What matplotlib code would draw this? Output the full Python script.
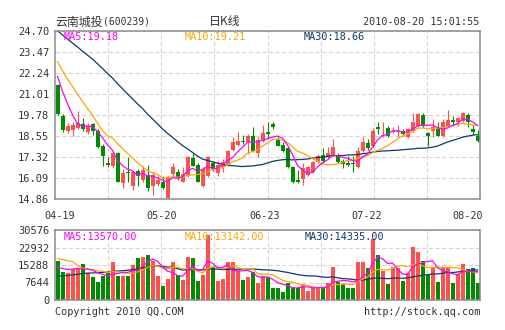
import numpy as np
import pandas as pd
import matplotlib
matplotlib.use("Agg")
import matplotlib.pyplot as plt

# ---- data (85 trading days, 04-19 .. 08-20) ----
date_labels = ["04-19", "05-20", "06-23", "07-22", "08-20"]
price_ticks = [14.86, 16.09, 17.32, 18.55, 19.78, 21.01, 22.24, 23.47, 24.70]
vol_ticks = [0, 7644, 15288, 22932, 30576]

opens = [21.54, 19.74, 18.82, 18.92, 19.00, 19.23, 18.77, 19.25, 18.86, 17.98,
         16.95, 16.81, 17.53, 15.78, 16.46, 15.64, 16.52, 15.99, 16.27, 15.64,
         15.74, 15.88, 14.92, 16.33, 16.42, 15.88, 16.23, 17.24, 16.85, 15.64,
         16.23, 16.95, 16.36, 16.72, 16.91, 17.75, 18.04, 18.28, 18.18, 18.57,
         17.55, 18.28, 18.77, 19.25, 18.32, 18.02, 17.83, 16.72, 15.99, 16.03,
         16.29, 16.42, 17.05, 17.44, 17.34, 17.44, 17.44, 17.11, 16.95, 16.95,
         16.72, 17.69, 18.14, 17.95, 19.06, 18.99, 19.02, 18.77, 18.80, 18.86,
         18.47, 18.86, 19.16, 19.78, 18.73, 18.86, 19.00, 18.57, 19.12, 19.49,
         19.39, 19.45, 19.78, 18.96, 18.57]
closes = [19.84, 18.90, 19.16, 19.21, 19.29, 18.96, 19.12, 18.86, 17.89, 17.40,
          16.87, 17.55, 15.88, 16.36, 16.36, 16.42, 16.19, 16.58, 15.51, 16.27,
          15.97, 15.49, 16.10, 16.72, 16.13, 16.33, 17.30, 16.81, 15.88, 16.62,
          17.30, 16.62, 16.85, 17.05, 17.69, 18.22, 18.28, 18.18, 18.57, 17.69,
          18.32, 18.73, 18.65, 19.06, 17.98, 17.69, 16.72, 15.84, 15.88, 16.66,
          16.72, 17.01, 17.40, 17.11, 17.53, 17.93, 17.01, 16.91, 16.85, 16.89,
          17.69, 18.22, 17.83, 18.86, 18.96, 19.02, 18.57, 18.86, 18.86, 18.67,
          18.96, 19.35, 19.84, 19.16, 18.57, 19.06, 18.57, 19.39, 19.49, 19.35,
          19.59, 19.88, 19.35, 18.77, 18.24]
highs = [21.60, 19.84, 19.29, 19.39, 20.03, 19.60, 19.31, 19.29, 18.96, 18.08,
         17.30, 17.69, 17.63, 16.62, 17.34, 16.52, 16.62, 16.81, 16.87, 16.42,
         16.23, 16.23, 16.23, 16.97, 16.62, 16.72, 17.40, 17.55, 16.97, 16.72,
         17.40, 17.11, 17.11, 17.20, 17.75, 18.47, 18.80, 18.61, 18.67, 19.10,
         18.47, 19.19, 19.39, 19.35, 18.47, 18.18, 17.89, 16.81, 16.58, 16.97,
         16.81, 17.11, 17.50, 17.83, 17.89, 18.38, 17.55, 17.20, 17.40, 17.40,
         17.89, 18.47, 18.38, 19.00, 19.35, 19.35, 19.12, 19.06, 19.19, 18.96,
         19.00, 19.90, 19.90, 19.88, 18.80, 19.55, 19.35, 19.55, 20.09, 19.74,
         19.64, 19.94, 19.88, 19.19, 18.90]
lows = [19.78, 18.77, 18.73, 18.53, 18.96, 18.86, 18.67, 18.61, 17.83, 16.81,
        16.72, 16.66, 15.84, 15.49, 15.84, 15.39, 15.64, 15.88, 15.35, 15.10,
        15.64, 15.45, 14.86, 16.23, 15.99, 15.84, 16.13, 16.77, 15.84, 15.58,
        16.13, 16.52, 16.19, 16.46, 16.81, 17.69, 17.98, 18.08, 17.50, 17.63,
        17.30, 18.22, 18.38, 18.96, 17.95, 17.63, 16.66, 15.80, 15.80, 15.68,
        16.23, 16.38, 16.97, 16.97, 17.20, 17.40, 16.97, 16.66, 16.81, 16.42,
        16.66, 17.63, 17.75, 17.89, 18.67, 18.47, 18.47, 18.73, 18.47, 18.57,
        18.41, 18.80, 19.06, 19.06, 17.98, 18.47, 18.53, 18.47, 19.06, 19.16,
        19.16, 19.35, 19.06, 18.61, 18.18]
volumes = [17170, 12400, 12000, 13700, 14000, 15700, 11800, 10100, 7900, 10600,
           11800, 16700, 10600, 10600, 10600, 15300, 18400, 18900, 19700, 17200,
           10600, 6100, 9300, 16700, 10800, 8900, 18800, 18500, 8400, 11000,
           28300, 14200, 8400, 9300, 16400, 16600, 12700, 8700, 10200, 12400,
           7300, 10400, 9900, 5400, 5100, 3640, 7570, 5100, 5100, 6990,
           4080, 5390, 5100, 5830, 7570, 14560, 7720, 6840, 5390, 5100,
           16750, 16750, 14130, 26640, 19660, 12810, 6840, 14560, 14130, 8300,
           11940, 23310, 20830, 17030, 10920, 13840, 8000, 14560, 13840, 7280,
           11220, 15870, 13400, 14130, 7570]

# sessions before 04-19 (not drawn, only feed the moving averages), estimated
prior_closes = [26.3, 26.5, 26.2, 26.0, 26.4, 26.1, 25.9, 26.0, 25.7, 25.8,
                25.5, 25.6, 25.3, 25.4, 25.0, 25.2, 24.9, 25.1, 24.8, 24.7,
                24.2, 24.0, 23.6, 23.8, 23.2, 23.3, 22.8, 22.5, 21.8]
prior_volumes = [6200, 5800, 7000, 6500, 5600, 6900, 7200, 6300, 5900, 6800,
                 7400, 6100, 6600, 5700, 6400, 7100, 6700, 6000, 6900, 6800,
                 16000, 17000, 18000, 30000, 28000, 15000, 14000, 13000, 12230]

RED = "#ff5050"
GREEN = "#008c00"
C_MA5 = "#ff00ff"
C_MA10 = "#ffa500"
C_MA30 = "#0b3a6a"
FRAME = "#8c8c8c"
GRID = "#d6d6d6"
TXT = "#333333"
MONO = "DejaVu Sans Mono"
CJK = ["Noto Sans CJK SC", "DejaVu Sans"]

n = len(closes)
x = np.arange(n)
o = np.array(opens); c = np.array(closes)
h = np.array(highs); l = np.array(lows)
v = np.array(volumes)
up = c >= o
cols = np.where(up, RED, GREEN)

cs = pd.Series(prior_closes + closes)
vs = pd.Series(prior_volumes + volumes)
k = len(prior_closes)
ma_p = {m: cs.rolling(m).mean().values[k:] for m in (5, 10, 30)}
ma_v = {m: vs.rolling(m).mean().values[k:] for m in (5, 10, 30)}

fig = plt.figure(figsize=(5.05, 3.30), dpi=100)
ax = fig.add_axes([55 / 505, 131 / 330, 425 / 505, 168 / 330])
axv = fig.add_axes([55 / 505, 30 / 330, 425 / 505, 70 / 330])

vgrid = -0.5 + n * np.arange(1, 8) / 8
for a in (ax, axv):
    a.set_xlim(-0.5, n - 0.5)
    a.set_xticks(vgrid)
    a.set_xticklabels([])
    a.tick_params(length=0, pad=4, labelsize=7.5, labelcolor=TXT)
    a.grid(True, color=GRID, lw=0.8, ls=(0, (4, 2)))
    a.set_axisbelow(True)
    for s in a.spines.values():
        s.set_color(FRAME)
        s.set_linewidth(1.1)
    for t in a.get_yticklabels():
        t.set_family(MONO)

# candles
ax.vlines(x, l, h, colors=cols, lw=0.8)
body = np.maximum(np.abs(c - o), 0.03)
ax.bar(x, body, bottom=np.minimum(o, c), width=0.8, color=cols, lw=0)
ax.plot(x, ma_p[30], color=C_MA30, lw=0.9)
ax.plot(x, ma_p[10], color=C_MA10, lw=0.9)
ax.plot(x, ma_p[5], color=C_MA5, lw=0.9)
ax.set_ylim(price_ticks[0], price_ticks[-1])
ax.set_yticks(price_ticks)
ax.set_yticklabels(["%.2f" % t for t in price_ticks], family=MONO)

# volume
axv.bar(x, v, width=0.8, color=cols, lw=0)
axv.plot(x, ma_v[30], color=C_MA30, lw=0.9)
axv.plot(x, ma_v[10], color=C_MA10, lw=0.9)
axv.plot(x, ma_v[5], color=C_MA5, lw=0.9)
axv.set_ylim(vol_ticks[0], vol_ticks[-1])
axv.set_yticks(vol_ticks)
axv.set_yticklabels([str(t) for t in vol_ticks], family=MONO)

# texts
fig.text(55 / 505, 1 - 22 / 330, "云南城投", family=CJK, fontsize=8.6, color=TXT, va="center")
fig.text(103 / 505, 1 - 22 / 330, "(600239)", family=MONO, fontsize=7, color=TXT, va="center")
fig.text(225 / 505, 1 - 22 / 330, "日K线", family=CJK, fontsize=8.6, color=TXT, va="center", ha="center")
fig.text(479 / 505, 1 - 22 / 330, "2010-08-20 15:01:55", family=MONO, fontsize=7.3, color=TXT,
         va="center", ha="right")

fig.text(64 / 505, 1 - 37 / 330, "MA5:%.2f" % 19.18, family=MONO, fontsize=7.3, color=C_MA5, va="center")
fig.text(185 / 505, 1 - 37 / 330, "MA10:%.2f" % 19.21, family=MONO, fontsize=7.3, color=C_MA10, va="center")
fig.text(304 / 505, 1 - 37 / 330, "MA30:%.2f" % 18.66, family=MONO, fontsize=7.3, color=C_MA30, va="center")

fig.text(64 / 505, 1 - 237 / 330, "MA5:13570.00", family=MONO, fontsize=7.3, color=C_MA5, va="center")
fig.text(185 / 505, 1 - 237 / 330, "MA10:13142.00", family=MONO, fontsize=7.3, color=C_MA10, va="center")
fig.text(305 / 505, 1 - 237 / 330, "MA30:14335.00", family=MONO, fontsize=7.3, color=C_MA30, va="center")

label_px = [60, 162, 265, 367, 468]
for px, lab in zip(label_px, date_labels):
    fig.text(px / 505, 1 - 216 / 330, lab, family=MONO, fontsize=7.3, color=TXT, va="center", ha="center")

fig.text(55 / 505, 1 - 312 / 330, "Copyright 2010 QQ.COM", family=MONO, fontsize=7.3, color=TXT, va="center")
fig.text(480 / 505, 1 - 312 / 330, "http://stock.qq.com", family=MONO, fontsize=7.3, color=TXT,
         va="center", ha="right")

fig.savefig("out.png", dpi=100, facecolor="white")
